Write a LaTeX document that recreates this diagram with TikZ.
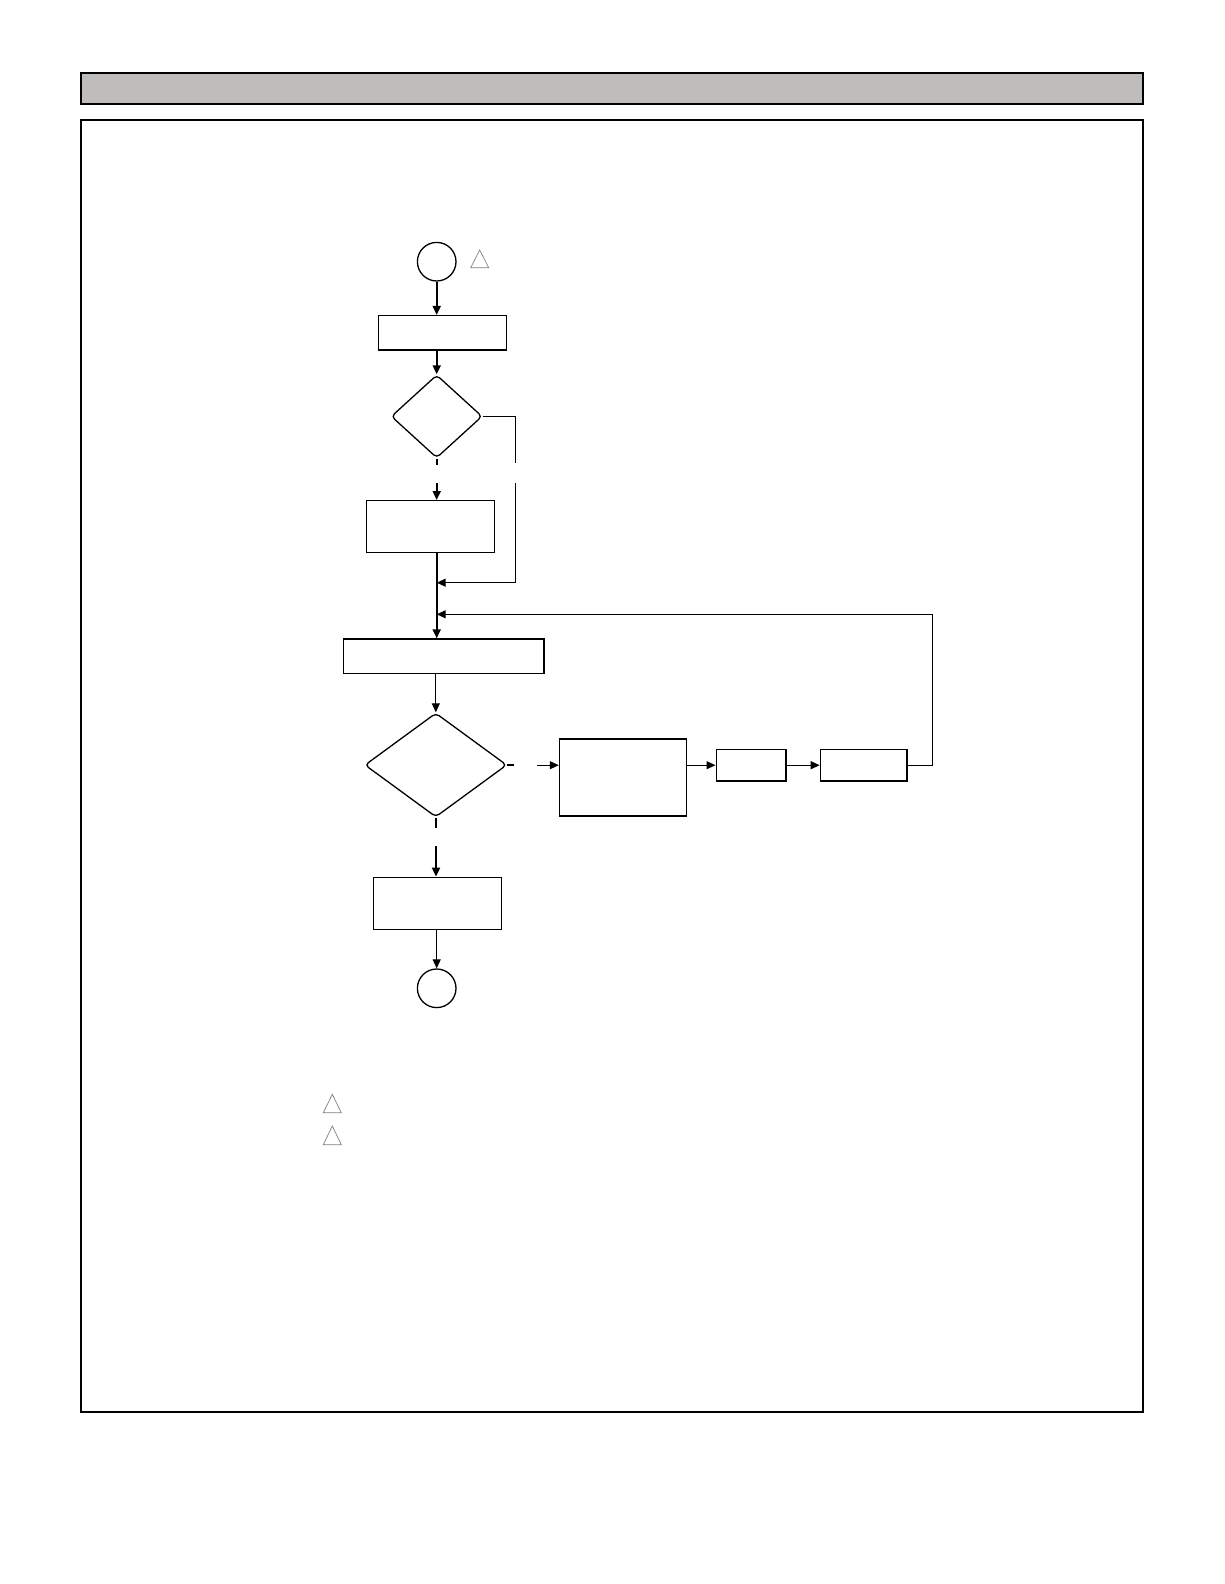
\documentclass[tikz,border=0pt]{standalone}
\usetikzlibrary{arrows.meta,shapes.geometric,calc}
\definecolor{headgray}{HTML}{BEBDBC}
\tikzset{
  box/.style={draw, line width=1.4pt, inner sep=0pt},
  dia/.style={draw, diamond, line width=1.3pt, inner sep=0pt, rounded corners=4pt},
  term/.style={draw, circle, line width=1.3pt, minimum size=38.6pt, inner sep=0pt},
  tri/.style={draw=gray, line width=0.7pt},
  arr/.style={-{Triangle[length=9pt,width=8pt]}},
  heavy/.style={line width=1.9pt},
  mid/.style={line width=1.4pt},
  light/.style={line width=1.1pt}
}
\begin{document}
\begin{tikzpicture}[x=1pt,y=-1pt]
\useasboundingbox (0,0) rectangle (1224,1584);
% frame
\fill[headgray] (80.7,72.7) rectangle (1143,103.7);
\draw[line width=1.7pt] (80.7,72.7) rectangle (1143,103.7);
\draw[line width=1.7pt] (80.7,120) rectangle (1143,1412);
% nodes
\node[term] (start) at (436.7,261.7) {};
\node[box, minimum width=128pt, minimum height=34.3pt] (r1) at (442.7,332.8) {};
\node[dia, minimum width=91pt, minimum height=83pt] (d1) at (436.7,416.4) {};
\node[box, minimum width=127.6pt, minimum height=51.6pt] (r2) at (430.5,526.5) {};
\node[box, minimum width=200.7pt, minimum height=34.3pt] (r3) at (443.7,656.2) {};
\node[dia, minimum width=142pt, minimum height=104pt] (d2) at (435.8,765) {};
\node[box, minimum width=127.2pt, minimum height=77pt] (r4) at (623.1,777.5) {};
\node[box, minimum width=69.6pt, minimum height=31.7pt] (r5) at (751,765.2) {};
\node[box, minimum width=86.5pt, minimum height=31.7pt] (r6) at (863.6,765.2) {};
\node[box, minimum width=128pt, minimum height=52pt] (r7) at (437.7,903.3) {};
\node[term] (end) at (436.7,988.3) {};
% helper coordinates
\coordinate (g1) at (436.7,483);
\coordinate (b1) at (515.7,463);
\coordinate (b2) at (515.7,483);
\coordinate (m1) at (436.7,582.7);
\coordinate (g3) at (537,765.2);
\coordinate (lp) at (932.4,614.3);
\coordinate (g4) at (436,846);
% connectors
\draw[heavy, arr] (start) -- (start |- r1.north);
\draw[heavy, arr] (r1.south -| start) -- (d1.north);
\draw[heavy] (d1.south) -- ++(0,6);
\draw[heavy, arr] (g1) -- (g1 |- r2.north);
\draw[mid] (d1.east) -| (b1);
\draw[mid, arr] (b2) |- (m1);
\draw[heavy, arr] (r2.south -| start) -- (r3.north -| start);
\draw[light, arr] (r6.east) -| (lp) -- (lp -| start);
\draw[light, arr] (r3.south -| d2) -- (d2.north);
\draw[light] (d2.east) -- ++(7,0);
\draw[light, arr] (g3) -- (r4.west |- g3);
\draw[light, arr] (r4.east |- r5.west) -- (r5.west);
\draw[light, arr] (r5) -- (r6);
\draw[heavy] (d2.south) -- ++(0,10);
\draw[heavy, arr] (g4) -- (g4 |- r7.north);
\draw[light, arr] (r7.south -| end) -- (end.north);
% triangle marks
\draw[tri] (470.7,267.7) -- (479.7,250) -- (488.7,267.7) -- cycle;
\draw[tri] (323.3,1112.7) -- (332.3,1094.3) -- (341.3,1112.7) -- cycle;
\draw[tri] (323.3,1144.7) -- (332.3,1126) -- (341.3,1144.7) -- cycle;
\end{tikzpicture}
\end{document}
